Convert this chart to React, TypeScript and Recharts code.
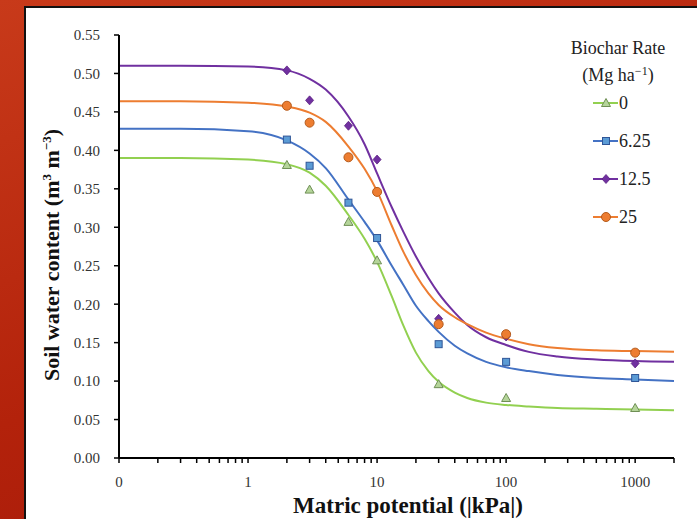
import React from 'react';
import { ComposedChart, Line, Scatter, XAxis, YAxis, Legend } from 'recharts';

// biochar rates (Mg ha-1)
const rates = ['0', '6.25', '12.5', '25'];
const colors = ['#92d050', '#4472c4', '#7030a0', '#ed7d31'];

// fitted retention curves
const curveX = [0.1, 0.3, 1, 2, 3, 4, 6, 8, 10, 13, 16, 20, 25, 30, 40, 50, 70, 100, 150, 250, 500, 1000, 2000];
const curve0 = [0.390, 0.390, 0.388, 0.382, 0.371, 0.354, 0.316, 0.285, 0.255, 0.210, 0.172, 0.137, 0.113, 0.099, 0.085, 0.078, 0.072, 0.069, 0.067, 0.065, 0.064, 0.063, 0.062];
const curve625 = [0.428, 0.428, 0.425, 0.413, 0.396, 0.377, 0.336, 0.307, 0.283, 0.250, 0.225, 0.198, 0.178, 0.164, 0.146, 0.136, 0.125, 0.118, 0.113, 0.108, 0.104, 0.102, 0.100];
const curve125 = [0.510, 0.510, 0.509, 0.504, 0.493, 0.479, 0.444, 0.408, 0.370, 0.326, 0.294, 0.262, 0.234, 0.214, 0.189, 0.173, 0.157, 0.147, 0.138, 0.132, 0.128, 0.126, 0.125];
const curve25 = [0.464, 0.464, 0.462, 0.457, 0.449, 0.437, 0.405, 0.376, 0.347, 0.302, 0.268, 0.238, 0.214, 0.199, 0.183, 0.174, 0.163, 0.155, 0.148, 0.143, 0.140, 0.139, 0.138];

// measured points
const pointX = [2, 3, 6, 10, 30, 100, 1000];
const point0 = [0.381, 0.349, 0.307, 0.257, 0.096, 0.078, 0.065];
const point625 = [0.414, 0.380, 0.332, 0.286, 0.148, 0.125, 0.104];
const point125 = [0.504, 0.465, 0.432, 0.388, 0.181, 0.158, 0.123];
const point25 = [0.458, 0.436, 0.391, 0.346, 0.174, 0.161, 0.137];

// axis ticks
const xMajor = [0.1, 1, 10, 100, 1000];
const xMajorLabels = ['0', '1', '10', '100', '1000'];
const xTicks = [
  0.1, 0.2, 0.3, 0.4, 0.5, 0.6, 0.7, 0.8, 0.9,
  1, 2, 3, 4, 5, 6, 7, 8, 9,
  10, 20, 30, 40, 50, 60, 70, 80, 90,
  100, 200, 300, 400, 500, 600, 700, 800, 900,
  1000, 2000,
];
const yTicks = [0, 0.05, 0.1, 0.15, 0.2, 0.25, 0.3, 0.35, 0.4, 0.45, 0.5, 0.55];

const curves = [curve0, curve625, curve125, curve25];
const points = [point0, point625, point125, point25];
const toXY = (xs: number[], ys: number[]) => xs.map((x, i) => ({ x, y: ys[i] }));

const FONT = 'Liberation Serif, Times New Roman, serif';

const Marker = ({ i, cx, cy }: { i: number; cx: number; cy: number }) => {
  if (i === 0) {
    return <path d={`M${cx},${cy - 4.5}L${cx + 4.5},${cy + 3.5}L${cx - 4.5},${cy + 3.5}Z`} fill="#b5d59a" stroke="#6f8f55" strokeWidth={1} />;
  }
  if (i === 1) {
    return <rect x={cx - 3.5} y={cy - 3.5} width={7} height={7} fill="#5b9bd5" stroke="#2f5597" strokeWidth={1} />;
  }
  if (i === 2) {
    return <path d={`M${cx},${cy - 4.5}L${cx + 4},${cy}L${cx},${cy + 4.5}L${cx - 4},${cy}Z`} fill="#7030a0" stroke="#5a2080" strokeWidth={0.8} />;
  }
  return <circle cx={cx} cy={cy} r={4.5} fill="#ed7d31" stroke="#b55a1a" strokeWidth={1} />;
};

const legendText = { fontFamily: FONT, fontSize: 18 };

const renderLegend = () => {
  const rowY = [73, 111, 149, 187];
  return (
    <svg width={157} height={200} style={{ display: 'block' }}>
      <text x={78} y={24} textAnchor="middle" fill="#222" style={legendText}>Biochar Rate</text>
      <text x={78} y={51} textAnchor="middle" fill="#222" style={legendText}>
        (Mg ha<tspan dy={-6} style={{ fontSize: 12 }}>−1</tspan><tspan dy={6}>)</tspan>
      </text>
      {rates.map((r, i) => (
        <g key={r}>
          <line x1={53} x2={78} y1={rowY[i]} y2={rowY[i]} stroke={colors[i]} strokeWidth={2} />
          <Marker i={i} cx={66} cy={rowY[i]} />
          <text x={79} y={rowY[i] + 6} fill="#222" style={legendText}>{r}</text>
        </g>
      ))}
    </svg>
  );
};

const tickStyle = { fill: '#333', fontSize: 15, fontFamily: FONT, style: { fontFamily: FONT } };

export default function App() {
  return (
    <div style={{ position: 'absolute', left: 0, top: 0, width: 697, height: 519, overflow: 'hidden', fontFamily: FONT, background: 'linear-gradient(160deg, #c83a1a 0%, #b3220b 55%, #a3170a 100%)' }}>
      <div style={{ position: 'absolute', left: 24, top: 6, right: 0, bottom: 0, background: '#fff', borderLeft: '2px solid #111', borderTop: '2px solid #111' }} />
      <div style={{ position: 'absolute', left: 0, top: 0 }}>
        <ComposedChart width={697} height={519} margin={{ top: 35, right: 23, bottom: 21, left: 59 }} style={{ fontFamily: FONT }}>
          <XAxis
            dataKey="x"
            type="number"
            scale="log"
            domain={[0.1, 2000]}
            allowDataOverflow
            ticks={xTicks}
            interval={0}
            height={40}
            tickFormatter={(v: number) => {
              const k = xMajor.findIndex((m) => Math.abs(m - v) < 1e-9);
              return k >= 0 ? xMajorLabels[k] : '';
            }}
            axisLine={{ stroke: '#000', strokeWidth: 2 }}
            tickLine={{ stroke: '#000', strokeWidth: 1.5 }}
            tickSize={5}
            tickMargin={13}
            tick={tickStyle}
          />
          <YAxis
            dataKey="y"
            type="number"
            domain={[0, 0.55]}
            ticks={yTicks}
            interval={0}
            width={60}
            tickFormatter={(v: number) => v.toFixed(2)}
            axisLine={{ stroke: '#000', strokeWidth: 2 }}
            tickLine={{ stroke: '#000', strokeWidth: 1.5 }}
            tickSize={5}
            tickMargin={14}
            tick={tickStyle}
          />
          <Legend layout="vertical" align="center" verticalAlign="middle" content={renderLegend} wrapperStyle={{ left: 540, top: 30, width: 157 }} />
          {curves.map((c, i) => (
            <Line
              key={`c${i}`}
              data={toXY(curveX, c)}
              dataKey="y"
              type="monotone"
              stroke={colors[i]}
              strokeWidth={2}
              dot={false}
              activeDot={false}
              isAnimationActive={false}
              legendType="none"
            />
          ))}
          {points.map((p, i) => (
            <Scatter
              key={`p${i}`}
              name={rates[i]}
              data={toXY(pointX, p)}
              dataKey="y"
              shape={(props: any) => <Marker i={i} cx={props.cx} cy={props.cy} />}
              isAnimationActive={false}
            />
          ))}
        </ComposedChart>
      </div>
      <div style={{ position: 'absolute', left: 52, top: 255, transform: 'translate(-50%, -50%) rotate(-90deg)', whiteSpace: 'nowrap', fontWeight: 'bold', fontSize: 22, color: '#111' }}>
        Soil water content (m<sup style={{ fontSize: 13 }}>3</sup> m<sup style={{ fontSize: 13 }}>−3</sup>)
      </div>
      <div style={{ position: 'absolute', left: 408, top: 506, transform: 'translate(-50%, -50%)', whiteSpace: 'nowrap', fontWeight: 'bold', fontSize: 23, color: '#111' }}>
        Matric potential (|kPa|)
      </div>
    </div>
  );
}
